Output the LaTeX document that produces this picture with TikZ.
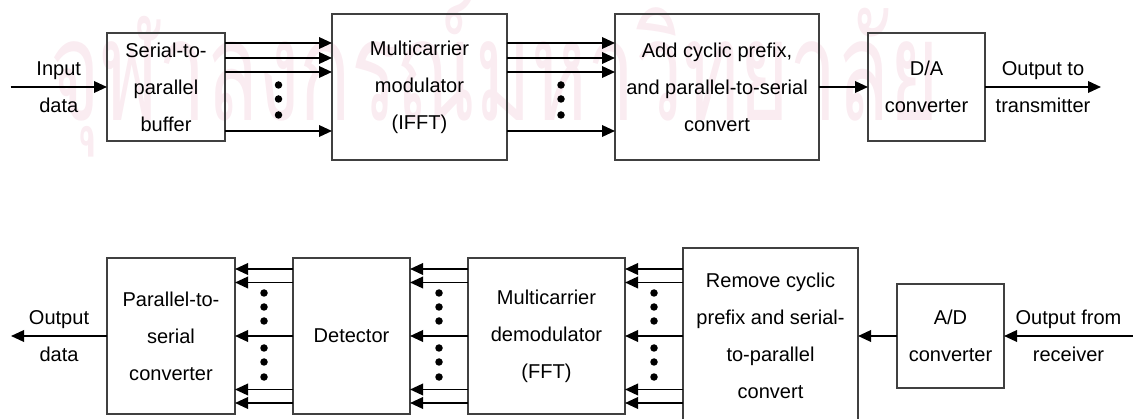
\documentclass[tikz,border=0pt]{standalone}
\usepackage{fontspec}
\setmainfont{Liberation Sans}
\newfontfamily\thaifont[Script=Thai]{Loma}
\usepackage{graphicx}
\usepackage{xcolor}
\usetikzlibrary{arrows.meta,positioning,calc}
\definecolor{wmpink}{RGB}{250,236,241}

\begin{document}
\begin{tikzpicture}[
    >={Triangle[length=0.26cm,width=0.23cm]},
    font=\fontsize{11.4}{21}\selectfont,
    box/.style={draw=black!75, line width=0.6pt, align=center,
                inner sep=2pt, outer sep=0pt},
    sbox/.style={box, minimum height=2.16cm},
    tbox/.style={box, minimum height=2.92cm},
    rbox/.style={box, minimum height=3.12cm},
    lbl/.style={align=center},
    arr/.style={->, line width=1.1pt},
    wmark/.style={text=wmpink, inner sep=0pt,
                  font=\thaifont\fontsize{80}{80}\selectfont}
]
\useasboundingbox (0,0) rectangle (22.66,-8.38);
% --- watermark --------------------------------------------------------
\node[wmark, anchor=base west] (wm) at (1.0,-2.42)
    {\scalebox{0.605}[1]{จุฬาลงกรณ์มหาวิทยาลัย}};
% --- top row: transmitter ---------------------------------------------
\node[sbox, minimum width=2.36cm] (s2p) at (3.32,-1.74)
    {Serial-to-\\parallel\\buffer};
\node[tbox, minimum width=3.5cm, right=2.14cm of s2p] (mod)
    {Multicarrier\\modulator\\(IFFT)};
\node[tbox, minimum width=4.08cm, right=2.16cm of mod] (acp)
    {Add cyclic prefix,\\and parallel-to-serial\\convert};
\node[sbox, minimum width=2.34cm, right=0.98cm of acp] (dac)
    {D/A\\converter};
\coordinate[left=1.93cm of s2p]  (din);
\coordinate[right=2.32cm of dac] (tx);
% --- bottom row: receiver ---------------------------------------------
\node[rbox, minimum width=2.56cm] (p2s) at (3.42,-6.72)
    {Parallel-to-\\serial\\converter};
\node[rbox, minimum width=2.34cm, right=1.16cm of p2s] (det) {Detector};
\node[rbox, minimum width=3.14cm, right=1.16cm of det] (fft)
    {Multicarrier\\demodulator\\(FFT)};
\node[box, minimum width=3.5cm, minimum height=3.52cm,
      right=1.16cm of fft] (rcp)
    {Remove cyclic\\prefix and serial-\\to-parallel\\convert};
\node[box, minimum width=2.14cm, minimum height=2.08cm,
      right=0.78cm of rcp] (adc) {A/D\\converter};
\coordinate[left=1.92cm of p2s]  (dout);
\coordinate[right=2.58cm of adc] (rx);
% --- top arrows -------------------------------------------------------
\draw[arr] (din) -- node[lbl]{Input\\data} (s2p);
\draw[arr] ([yshift=8.8mm]s2p.east)  -- ([yshift=8.8mm]mod.west);
\draw[arr] ([yshift=5.8mm]s2p.east)  -- ([yshift=5.8mm]mod.west);
\draw[arr] ([yshift=3.0mm]s2p.east)  -- ([yshift=3.0mm]mod.west);
\draw[arr] ([yshift=-8.8mm]s2p.east) -- ([yshift=-8.8mm]mod.west);
\draw[arr] ([yshift=8.8mm]mod.east)  -- ([yshift=8.8mm]acp.west);
\draw[arr] ([yshift=5.8mm]mod.east)  -- ([yshift=5.8mm]acp.west);
\draw[arr] ([yshift=3.0mm]mod.east)  -- ([yshift=3.0mm]acp.west);
\draw[arr] ([yshift=-8.8mm]mod.east) -- ([yshift=-8.8mm]acp.west);
\draw[arr] (acp) -- (dac);
\draw[arr] (dac) -- node[lbl]{Output to\\transmitter} (tx);
% --- bottom arrows ----------------------------------------------------
\draw[arr] (rx) -- node[lbl]{Output from\\receiver} (adc);
\draw[arr] (adc) -- (rcp);
\draw[arr] ([yshift=13.4mm]rcp.west)  -- ([yshift=13.4mm]fft.east);
\draw[arr] ([yshift=10.7mm]rcp.west)  -- ([yshift=10.7mm]fft.east);
\draw[arr] (rcp.west)                 -- (fft.east);
\draw[arr] ([yshift=-10.7mm]rcp.west) -- ([yshift=-10.7mm]fft.east);
\draw[arr] ([yshift=-13.4mm]rcp.west) -- ([yshift=-13.4mm]fft.east);
\draw[arr] ([yshift=13.4mm]fft.west)  -- ([yshift=13.4mm]det.east);
\draw[arr] ([yshift=10.7mm]fft.west)  -- ([yshift=10.7mm]det.east);
\draw[arr] (fft.west)                 -- (det.east);
\draw[arr] ([yshift=-10.7mm]fft.west) -- ([yshift=-10.7mm]det.east);
\draw[arr] ([yshift=-13.4mm]fft.west) -- ([yshift=-13.4mm]det.east);
\draw[arr] ([yshift=13.4mm]det.west)  -- ([yshift=13.4mm]p2s.east);
\draw[arr] ([yshift=10.7mm]det.west)  -- ([yshift=10.7mm]p2s.east);
\draw[arr] (det.west)                 -- (p2s.east);
\draw[arr] ([yshift=-10.7mm]det.west) -- ([yshift=-10.7mm]p2s.east);
\draw[arr] ([yshift=-13.4mm]det.west) -- ([yshift=-13.4mm]p2s.east);
\draw[arr] (p2s) -- node[lbl]{Output\\data} (dout);
% --- dots -------------------------------------------------------------
\foreach \a/\b in {s2p/mod, mod/acp}
    \foreach \dy in {0.04,-0.24,-0.56}
        \fill ($(\a.east)!0.5!(\b.west)$) ++(0,\dy) circle (0.075);
\foreach \a/\b in {p2s/det, det/fft, fft/rcp}
    \foreach \dy in {0.86,0.58,0.30,-0.24,-0.52,-0.82}
        \fill ($(\a.east)!0.5!(\b.west)$) ++(0,\dy) circle (0.075);
\end{tikzpicture}
\end{document}
